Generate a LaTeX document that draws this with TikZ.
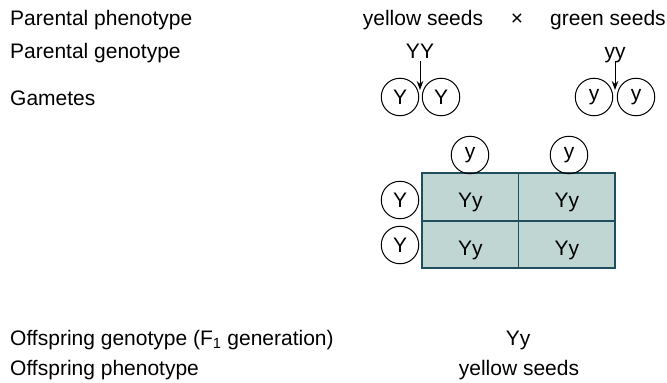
\documentclass[tikz,border=0pt]{standalone}
\usepackage{fontspec}
\setmainfont{Liberation Sans}
\usetikzlibrary{arrows.meta}
\definecolor{cellfill}{RGB}{191,214,210}
\definecolor{celledge}{RGB}{32,78,94}
\begin{document}
\begin{tikzpicture}[x=1pt,y=-1pt,
  txt/.style={font=\fontsize{21}{25}\selectfont, inner sep=0pt},
  lbl/.style={txt, anchor=base west},
  ctr/.style={txt, anchor=base},
  gam/.style={circle, draw, line width=1pt, minimum size=37.5pt, inner sep=0pt, font=\fontsize{21}{25}\selectfont},
  cell/.style={draw=celledge, fill=cellfill, line width=1.8pt, minimum width=96.5pt, minimum height=47.5pt, inner sep=0pt, text height=21pt, text depth=0pt, font=\fontsize{21}{25}\selectfont},
  arr/.style={line width=1pt, -{Stealth[length=9pt,width=6.5pt]}}
]
\useasboundingbox (0,0) rectangle (667,383);
% left labels
\node[lbl] (lpp) at (10,25) {Parental phenotype};
\node[lbl] (lpg) at (10,58) {Parental genotype};
\node[lbl] (lgam) at (10,105) {Gametes};
\node[lbl] (lofg) at (10,345) {Offspring genotype (F\textsubscript{1} generation)};
\node[lbl] (lofp) at (10,375) {Offspring phenotype};
% parents
\node[ctr] (ys) at (423,25) {yellow seeds};
\node[ctr] (cross) at (517,25) {×};
\node[lbl] (gs) at (550,25) {green seeds};
\node[ctr] (YY) at (420,58) {YY};
\node[ctr] (yy) at (615,58) {yy};
% gametes
\node[gam] (g1) at (400,97) {Y};
\node[gam] (g2) at (441,97) {Y};
\node[gam] (g3) at (594,97) {y};
\node[gam] (g4) at (636,97) {y};
\coordinate (m1) at (420,90);
\coordinate (m2) at (615,90);
\draw[arr] (YY.base |- 0,61) -- (m1);
\draw[arr] (yy.base |- 0,61) -- (m2);
% punnett square
\node[cell] (c11) at (470.25,197) {Yy};
\node[cell] (c12) at (566.75,197) {Yy};
\node[cell] (c21) at (470.25,244.5) {Yy};
\node[cell] (c22) at (566.75,244.5) {Yy};
\node[gam] (t1) at (470,155) {y};
\node[gam] (t2) at (569,155) {y};
\node[gam] (s1) at (400,200) {Y};
\node[gam] (s2) at (400,245) {Y};
% offspring
\node[ctr] (og) at (518,345) {Yy};
\node[ctr] (op) at (519,375) {yellow seeds};
\end{tikzpicture}
\end{document}
